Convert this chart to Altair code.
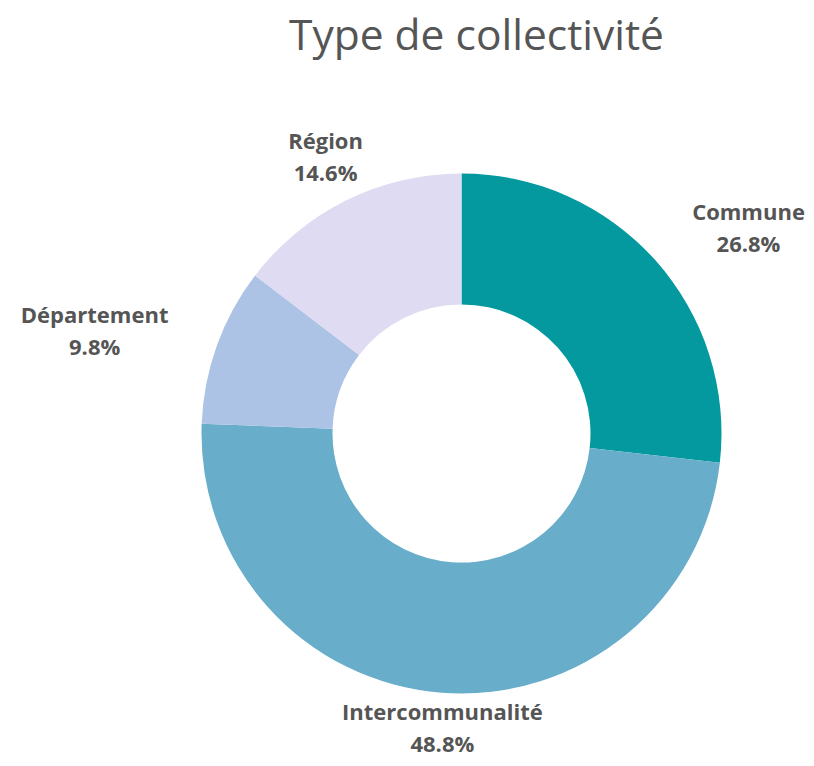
import altair as alt
import pandas as pd

categories = ["Commune", "Intercommunalité", "Département", "Région"]
values = [26.8, 48.8, 9.8, 14.6]
order_idx = [0, 1, 2, 3]
colors = ["#04999E", "#68ADCA", "#ADC3E5", "#DFDBF2"]

df = pd.DataFrame({"cat": categories, "val": values, "idx": order_idx})

base = alt.Chart(df).encode(
    theta=alt.Theta("val:Q", stack=True),
    order=alt.Order("idx:Q"),
)

arc = base.mark_arc(innerRadius=129, outerRadius=260).encode(
    color=alt.Color("cat:N", scale=alt.Scale(domain=categories, range=colors), legend=None)
)


def label(cat, dx=0, dy=0):
    return base.transform_calculate(
        lab=f"datum.cat == '{cat}' ? datum.cat + '\\n' + format(datum.val, '.1f') + '%' : ''"
    ).mark_text(
        radius=307, dx=dx, dy=dy, lineBreak="\n", fontSize=22, fontWeight="bold",
        font="Open Sans", color="#555555", lineHeight=32, baseline="middle", align="center",
    ).encode(text="lab:N")


chart = alt.layer(
    arc,
    label("Commune", dx=58, dy=-16),
    label("Intercommunalité", dx=4, dy=-27),
    label("Département", dx=-78, dy=-14),
    label("Région", dx=0, dy=-16),
).properties(
    width=689,
    height=639,
    padding={"left": 109, "top": 106, "right": 0, "bottom": 6},
    autosize=alt.AutoSizeParams(type="none"),
    title=alt.TitleParams(
        "Type de collectivité", font="Open Sans", fontSize=42.5, fontWeight="normal",
        color="#555555", anchor="middle", frame="group", baseline="alphabetic",
        offset=22, dx=15,
    ),
).configure_view(stroke=None)

chart.save("out.html", embed_options={"renderer": "svg", "actions": False})
